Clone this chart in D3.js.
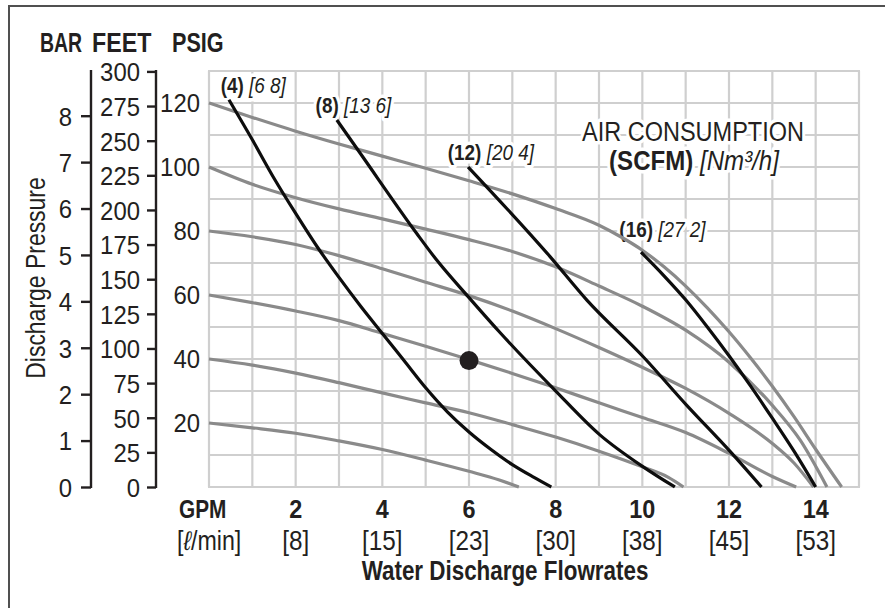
<!DOCTYPE html>
<html><head><meta charset="utf-8">
<script src="https://cdn.jsdelivr.net/npm/d3@7"></script>
<style>
body{margin:0;background:#fff}
svg{display:block}
text{font-family:'Liberation Sans',Arial,'DejaVu Sans',sans-serif;fill:#231f20}
</style>
</head><body>
<svg id="c" width="885" height="608"></svg>
<script>
// ---------- data ----------
const gpmTicks = [2, 4, 6, 8, 10, 12, 14];
const lpmLabels = ["[8]", "[15]", "[23]", "[30]", "[38]", "[45]", "[53]"];
const psiTicks = [20, 40, 60, 80, 100, 120];
const feetTicks = [0, 25, 50, 75, 100, 125, 150, 175, 200, 225, 250, 275, 300];
const barTicks = [0, 1, 2, 3, 4, 5, 6, 7, 8];

// discharge pressure curves (grey) : [GPM, PSIG]
const press120 = [[0,120],[1,115.5],[2,111.2],[3,107.2],[4,103.4],[5,99.6],[6,95.7],[7,91.6],[8,87],[9,81.8],[9.5,78.2],[10,74],[10.5,68.8],[11,62.8],[11.5,56],[12,48.5],[12.5,40.3],[13,31.5],[13.5,22],[14,11.8],[14.6,0]];
const press100 = [[0,100],[1,94.6],[2,90.4],[3,86.9],[4,83.8],[5,80.6],[6,77.3],[7,73.6],[8,68.8],[9,62.8],[10,56.5],[11,49],[12,39],[13,25.5],[13.64,14.7],[14.26,0]];
const press80 = [[0,80],[1,78.2],[2,75.8],[3,72.3],[4,68.2],[5,64],[6,59.8],[7,55],[8,49.5],[9,43.6],[10,37.4],[11,30.8],[12,23],[13,13.6],[13.5,7.5],[13.95,0]];
const press60 = [[0,60],[1,57.6],[2,55],[3,52],[4,48],[5,44],[6,39.8],[7,35.5],[8,31],[9,26.3],[10,21.7],[11,17],[12,10.5],[13,3.3],[13.55,0]];
const press40 = [[0,40],[1,38.1],[2,35.6],[3,32.6],[4,29.4],[5,26.3],[6,23.2],[7,19.5],[8,15.6],[9,11.2],[10,6.3],[10.6,3],[10.95,0]];
const press20 = [[0,20],[1,18.5],[2,16.8],[3,14.4],[4,11.7],[5,8.4],[6,4.9],[6.7,2.2],[7.15,0]];

// air consumption curves (black) : [GPM, PSIG]
const air4 = [[0.46,121],[1,108.5],[1.5,96.5],[2,85.5],[2.5,75],[3,65.5],[3.5,56.5],[4,48],[4.5,39.5],[5,31],[5.5,23.5],[6,17.2],[6.5,11.8],[7,7],[7.5,3],[7.9,0]];
const air8 = [[2.95,114.7],[3.49,104.3],[4.79,79.3],[5.25,71],[5.98,59.5],[6.72,48.2],[7.98,30.3],[9.02,16.3],[10.02,6.3],[10.75,0]];
const air12 = [[5.98,100],[7.87,72],[8.72,58.4],[10.02,40.7],[11.02,25.6],[12.02,11.2],[12.75,0]];
const air16 = [[9.97,73.4],[10.5,66],[11,58.5],[11.5,50],[12,41],[12.5,31.5],[13,21.5],[13.5,11.2],[14,0]];

const airScfm = ["(4)", "(8)", "(12)", "(16)"];
const airNm3 = ["[6 8]", "[13 6]", "[20 4]", "[27 2]"];
// label anchor in data units [GPM, PSIG]
const airLabelAt = [[0.27,123.1],[2.46,116.9],[5.51,102.2],[9.47,78.2]];

const dutyPoint = [6, 39.5];

// ---------- drawing ----------
const svg = d3.select("#c");
const x = d3.scaleLinear().domain([0, 15]).range([209, 859]);
const y = d3.scaleLinear().domain([0, 130]).range([487, 71]);
const yFeet = d3.scaleLinear().domain([0, 130 * 2.31]).range([487, 71]);
const yBar = d3.scaleLinear().domain([0, 130 / 14.5038]).range([487, 71]);

const SX_NUM = 0.92;
// condensed text helper
function ctext(parent, px, py, size, sx, opt = {}) {
  const g = parent.append("g").attr("transform", `translate(${px},${py})${opt.rot ? " rotate(" + opt.rot + ")" : ""} scale(${sx},1)`);
  const t = g.append("text").attr("font-size", size);
  if (opt.anchor) t.attr("text-anchor", opt.anchor);
  if (opt.weight) t.attr("font-weight", opt.weight);
  if (opt.style) t.attr("font-style", opt.style);
  if (opt.dy) t.attr("dy", opt.dy);
  if (opt.text !== undefined) t.text(opt.text);
  return t;
}

// outer frame (top + left)
svg.append("path").attr("d", "M9,608V6H885").attr("fill", "none")
  .attr("stroke", "#505050").attr("stroke-width", 2);

// grid
const grid = svg.append("g").attr("stroke", "#cfcfcf").attr("stroke-width", 2.2);
grid.selectAll("line.v").data(d3.range(0, 16)).join("line")
  .attr("x1", d => x(d)).attr("x2", d => x(d)).attr("y1", y(0)).attr("y2", y(130));
grid.selectAll("line.h").data(d3.range(0, 140, 10)).join("line")
  .attr("y1", d => y(d)).attr("y2", d => y(d)).attr("x1", x(0) - 1).attr("x2", x(15) + 1);

// PSIG labels
const gP = svg.append("g");
psiTicks.forEach(d => ctext(gP, 200, y(d), 26, SX_NUM, {anchor: "end", dy: "0.36em", text: d}));

// FEET axis
const feetAxis = d3.axisLeft(yFeet).tickValues(feetTicks).tickSize(9).tickPadding(7).tickFormat(d3.format("d"));
const gF = svg.append("g").attr("transform", "translate(156,0)").call(feetAxis);
gF.select(".domain").attr("stroke", "#231f20").attr("stroke-width", 2.4).attr("d", `M0,${y(130)-1}V${y(0)+1}`);
gF.selectAll(".tick line").attr("stroke", "#231f20").attr("stroke-width", 2.4);
gF.selectAll(".tick text").attr("font-size", 26).attr("x", null).attr("dy", "0.36em")
  .attr("transform", `translate(-16,0) scale(${SX_NUM},1)`);

// BAR axis
const barAxis = d3.axisLeft(yBar).tickValues(barTicks).tickSize(10).tickPadding(9).tickFormat(d3.format("d"));
const gB = svg.append("g").attr("transform", "translate(91,0)").call(barAxis);
gB.select(".domain").attr("stroke", "#231f20").attr("stroke-width", 2.4).attr("d", `M0,${y(130)-1}V${y(0)+1}`);
gB.selectAll(".tick line").attr("stroke", "#231f20").attr("stroke-width", 2.4);
gB.selectAll(".tick text").attr("font-size", 26).attr("x", null).attr("dy", "0.36em")
  .attr("transform", `translate(-19,0) scale(${SX_NUM},1)`);

// unit headers
const hdr = svg.append("g");
ctext(hdr, 40, 52, 27, 0.72, {weight: "bold", text: "BAR"});
ctext(hdr, 92, 52, 27, 0.86, {weight: "bold", text: "FEET"});
ctext(hdr, 172, 52, 27, 0.8, {weight: "bold", text: "PSIG"});

// y title
ctext(svg, 45, 278, 28, 0.82, {rot: -90, anchor: "middle", text: "Discharge Pressure"});

// x labels
const xl = svg.append("g");
gpmTicks.forEach((d, i) => {
  ctext(xl, x(d), 518, 26, 0.9, {anchor: "middle", weight: "bold", text: d});
  ctext(xl, x(d), 550, 27, 0.9, {anchor: "middle", text: lpmLabels[i]});
});
ctext(xl, 179, 518, 26, 0.8, {weight: "bold", text: "GPM"});
const lm = ctext(xl, 177, 550, 27, 0.86);
lm.append("tspan").text("[");
lm.append("tspan").attr("font-style", "italic").text("ℓ");
lm.append("tspan").text("/min]");
ctext(xl, 505, 580, 27, 0.83, {anchor: "middle", weight: "bold", text: "Water Discharge Flowrates"});

// annotation labels (with white halo over the grid)
const halo = sel => sel.attr("stroke", "#fff").attr("stroke-width", 7)
  .attr("stroke-linejoin", "round").attr("paint-order", "stroke");

const ann = svg.append("g");
ctext(ann, 693, 141, 28, 0.84, {anchor: "middle", text: "AIR CONSUMPTION"}).call(halo);
const t2 = ctext(ann, 694, 170, 28, 0.86, {anchor: "middle"}).call(halo);
t2.append("tspan").attr("font-weight", "bold").text("(SCFM)");
t2.append("tspan").attr("font-style", "italic").text(" [Nm³/h]");

airLabelAt.forEach((p, i) => {
  const t = ctext(ann, x(p[0]), y(p[1]), 22, 0.86).call(halo);
  t.append("tspan").attr("font-weight", "bold").text(airScfm[i]);
  t.append("tspan").attr("font-style", "italic").text(" " + airNm3[i]);
});

// curves
const line = d3.line().x(d => x(d[0])).y(d => y(d[1])).curve(d3.curveMonotoneX);
const pressCurves = [press120, press100, press80, press60, press40, press20];
const airCurves = [air4, air8, air12, air16];
svg.append("g").selectAll("path").data(pressCurves).join("path")
  .attr("d", line).attr("fill", "none").attr("stroke", "#8a8a8a").attr("stroke-width", 3.2);
svg.append("g").selectAll("path").data(airCurves).join("path")
  .attr("d", line).attr("fill", "none").attr("stroke", "#0d0d0d").attr("stroke-width", 3.2);

// duty point
svg.append("circle").attr("cx", x(dutyPoint[0])).attr("cy", y(dutyPoint[1])).attr("r", 9.5).attr("fill", "#231f20");
</script>
</body></html>
